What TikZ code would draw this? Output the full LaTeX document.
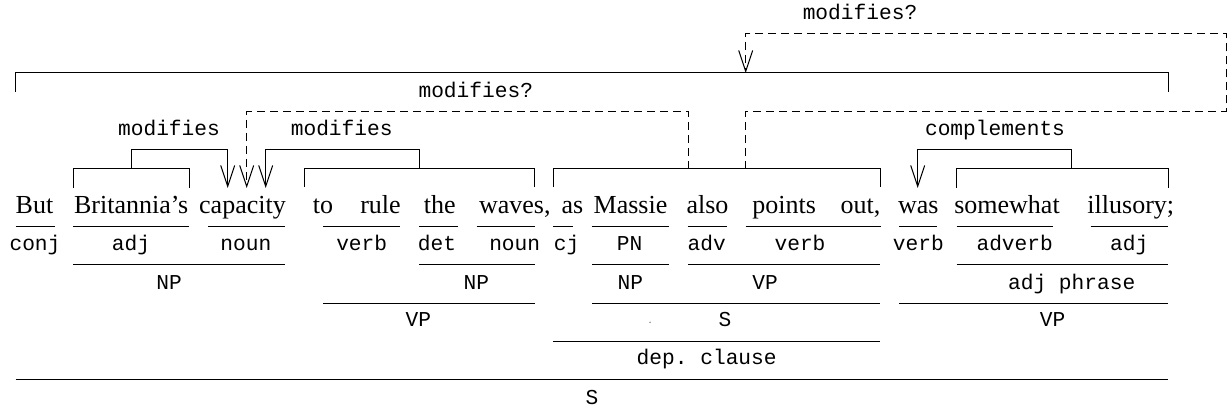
\documentclass[tikz,border=0pt]{standalone}
\usepackage{fontspec}
\setmainfont{Liberation Serif}
\setmonofont{Liberation Mono}
\usetikzlibrary{arrows.meta}

\tikzset{
  word/.style={anchor=base,inner sep=0pt,font=\fontsize{13}{15}\selectfont},
  tag/.style={anchor=base,inner sep=0pt,font=\ttfamily\fontsize{10.6}{12}\selectfont},
  bar/.style={line width=0.5pt},
  rel/.style={line width=0.5pt,-{Straight Barb[length=10.5pt,width=7pt]}},
  guess/.style={rel,dash pattern=on 4pt off 2.5pt},
}

\begin{document}
\begin{tikzpicture}[x=0.5pt,y=-0.5pt]
\useasboundingbox (0,0) rectangle (1230,410);
% === the sentence ===
\node[word] (but) at (34.5,214) {But};
\node[word] (brit) at (131.2,214) {Britannia's};
\node[word] (cap) at (242.5,214) {capacity};
\node[word] (to) at (323,214) {to};
\node[word] (rule) at (380.5,214) {rule};
\node[word] (the) at (439.7,214) {the};
\node[word] (waves) at (514.8,214) {waves,};
\node[word] (as) at (572.5,214) {as};
\node[word] (massie) at (630.5,214) {Massie};
\node[word] (also) at (707.5,214) {also};
\node[word] (points) at (784.2,214) {points};
\node[word] (out) at (860.5,214) {out,};
\node[word] (was) at (918.3,214) {was};
\node[word] (some) at (1007,214) {somewhat};
\node[word] (ill) at (1130.8,214) {illusory;};
% === word classes ===
\draw[bar] (15.7,226.7) -- (55,226.7);
\draw[bar] (73.3,226.7) -- (189.3,226.7);
\draw[bar] (208.3,226.7) -- (285,226.7);
\draw[bar] (323.3,226.7) -- (400,226.7);
\draw[bar] (419,226.7) -- (457.7,226.7);
\draw[bar] (476.7,226.7) -- (535,226.7);
\draw[bar] (553.3,226.7) -- (573.3,226.7);
\draw[bar] (591.7,226.7) -- (669.3,226.7);
\draw[bar] (687.7,226.7) -- (726.7,226.7);
\draw[bar] (745.7,226.7) -- (880.7,226.7);
\draw[bar] (899.3,226.7) -- (937.3,226.7);
\draw[bar] (956.7,226.7) -- (1053.3,226.7);
\draw[bar] (1090.7,226.7) -- (1168.3,226.7);
\node[tag] (t1) at (35,251) {conj};
\node[tag] (t2) at (131,251) {adj};
\node[tag] (t3) at (245.8,251) {noun};
\node[tag] (t4) at (361.7,251) {verb};
\node[tag] (t5) at (437,251) {det};
\node[tag] (t6) at (514.7,251) {noun};
\node[tag] (t7) at (566.7,251) {cj};
\node[tag] (t8) at (629.5,251) {PN};
\node[tag] (t9) at (706.7,251) {adv};
\node[tag] (t10) at (800,251) {verb};
\node[tag] (t11) at (918.3,251) {verb};
\node[tag] (t12) at (1014.7,251) {adverb};
\node[tag] (t13) at (1129.3,251) {adj};
% === phrases ===
\draw[bar] (73.3,265) -- (285,265);
\draw[bar] (419,265) -- (535,265);
\draw[bar] (592.3,265) -- (669,265);
\draw[bar] (688.3,265) -- (880,265);
\draw[bar] (956.7,265) -- (1168.3,265);
\node[tag] (p1) at (169,290) {NP};
\node[tag] (p2) at (476.3,290) {NP};
\node[tag] (p3) at (630.3,290) {NP};
\node[tag] (p4) at (765,290) {VP};
\node[tag] (p5) at (1071.7,290) {adj phrase};
\draw[bar] (323.3,303.3) -- (535,303.3);
\draw[bar] (592.3,303.3) -- (880,303.3);
\draw[bar] (899.3,303.3) -- (1168.3,303.3);
\node[tag] (p6) at (418.3,327) {VP};
\node[tag] (p7) at (725,327) {S};
\fill[gray] (650,322.3) circle (0.4pt);
\node[tag] (p8) at (1052.5,327) {VP};
\draw[bar] (553.3,341.7) -- (880,341.7);
\node[tag] (p9) at (706.7,365) {dep. clause};
\draw[bar] (15.7,380) -- (1168.3,380);
\node[tag] (p10) at (592,405) {S};
% === brackets over the words ===
\draw[bar] (73.3,188) -- (73.3,169) -- (189.3,169) -- (189.3,188);
\draw[bar] (304,187) -- (304,169) -- (534.3,169) -- (534.3,187);
\draw[bar] (553.3,187) -- (553.3,169) -- (880,169) -- (880,187);
\draw[bar] (956.7,188) -- (956.7,169) -- (1168.3,169) -- (1168.3,188);
\draw[bar] (15.7,91.7) -- (15.7,73) -- (1168.3,73) -- (1168.3,91.7);
\coordinate (np-brit) at (131,169);
\coordinate (vp-rule) at (419,169);
\coordinate (s-massie) at (688.3,169);
\coordinate (s-points) at (745.7,169);
\coordinate (ap-some) at (1071.7,169);
\coordinate (cap-a) at (227.7,188);
\coordinate (cap-b) at (246.7,188);
\coordinate (cap-c) at (265.7,188);
\coordinate (was-in) at (917.7,188);
\coordinate (sent-in) at (745.7,73);
% === relations ===
\draw[rel] (np-brit) |- (227.7,150) -- (cap-a);
\node[tag] (m1) at (169,136) {modifies};
\draw[rel] (vp-rule) |- (265.7,150) -- (cap-c);
\node[tag] (m2) at (341.7,136) {modifies};
\draw[guess] (s-massie) |- (246.7,111.7) -- (cap-b);
\node[tag] (m3) at (475.8,98) {modifies?};
\draw[guess] (s-points) |- (1226,111.7) |- (745.7,33.3) -- (sent-in);
\node[tag] (m4) at (860,20) {modifies?};
\draw[rel] (ap-some) |- (917.7,150) -- (was-in);
\node[tag] (m5) at (995,136) {complements};
\end{tikzpicture}
\end{document}
